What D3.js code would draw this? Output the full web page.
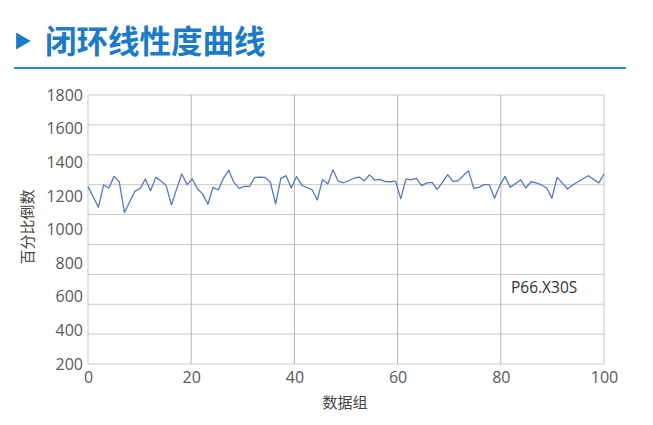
<!DOCTYPE html>
<html><head><meta charset="utf-8">
<script src="https://cdn.jsdelivr.net/npm/d3@7"></script>
<style>body{margin:0;background:#fff;} svg{display:block;}</style>
</head><body>
<svg id="c" width="653" height="425"></svg>
<script>
const titleText = "闭环线性度曲线";
const xTitle = "数据组";
const yTitle = "百分比倒数";
const note = "P66.X30S";
const xTicks = [0, 20, 40, 60, 80, 100];
const yTicks = [200, 400, 600, 800, 1000, 1200, 1400, 1600, 1800];
const gridValues = [0, 200, 400, 600, 800, 1000, 1200, 1400, 1600, 1800];
const values = [
 1255,1195,1132,1265,1247,1316,1284,1101,1165,1227,
 1245,1300,1231,1310,1288,1261,1146,1240,1330,1267,
 1300,1241,1212,1150,1251,1235,1306,1352,1280,1245,
 1257,1257,1310,1312,1310,1280,1152,1304,1320,1247,
 1314,1264,1250,1236,1176,1298,1271,1356,1287,1278,
 1290,1305,1312,1290,1325,1294,1298,1285,1284,1288,
 1184,1300,1296,1304,1261,1277,1280,1239,1280,1326,
 1286,1290,1320,1350,1245,1251,1267,1267,1186,1261,
 1316,1251,1273,1296,1247,1284,1277,1265,1247,1186,
 1310,1277,1241,1265,1284,1302,1320,1298,1277,1330
];

const svg = d3.select("#c");
const L = 88, R = 604, T = 95, B = 364;
const x = d3.scaleLinear().domain([0, 100]).range([L, R]);
const y = d3.scaleLinear().domain([200, 1800]).range([B, T]);
const g = d3.scaleLinear().domain([0, 1800]).range([B, T]);
const blue = "#1b7bc6";

// title
svg.append("path").attr("d", d3.symbol().type(d3.symbolTriangle).size(125)())
  .attr("transform", "translate(21,41) rotate(90)").attr("fill", blue);
svg.append("text").attr("x", 45).attr("y", 53).text(titleText)
  .attr("font-family", "Noto Sans CJK SC").attr("font-weight", "bold")
  .attr("font-size", 31.5).attr("fill", blue);
svg.append("line").attr("x1", 14).attr("x2", 626).attr("y1", 68).attr("y2", 68)
  .attr("stroke", "#2a86d0").attr("stroke-width", 2);

// horizontal gridlines
svg.append("g").selectAll("line").data(gridValues).join("line")
  .attr("x1", L).attr("x2", R).attr("y1", d => g(d)).attr("y2", d => g(d))
  .attr("stroke", "#c8c8c8").attr("stroke-width", 1);
// vertical gridlines
svg.append("g").selectAll("line").data(xTicks).join("line")
  .attr("x1", d => x(d)).attr("x2", d => x(d)).attr("y1", T).attr("y2", B)
  .attr("stroke", d => (d === 0 || d === 100) ? "#c8c8c8" : "#b4b4b4").attr("stroke-width", 1);

// axes labels
const fnt = "'Open Sans', 'DejaVu Sans', sans-serif";
const yAxis = svg.append("g").attr("transform", `translate(${L},0)`)
  .call(d3.axisLeft(y).tickValues(yTicks).tickSize(0).tickPadding(5).tickFormat(d3.format("d")));
yAxis.select(".domain").remove();
yAxis.selectAll("text").attr("font-family", fnt).attr("font-size", 16).attr("fill", "#595959");
const xAxis = svg.append("g").attr("transform", `translate(0,${B})`)
  .call(d3.axisBottom(x).tickValues(xTicks).tickSize(0).tickPadding(8).tickFormat(d3.format("d")));
xAxis.select(".domain").remove();
xAxis.selectAll("text").attr("font-family", fnt).attr("font-size", 16).attr("fill", "#595959");

// axis titles
svg.append("text").attr("transform", "translate(33,227) rotate(-90)").attr("text-anchor", "middle")
  .attr("font-family", "Noto Sans CJK SC").attr("font-size", 15).attr("fill", "#444").text(yTitle);
svg.append("text").attr("x", 345).attr("y", 408).attr("text-anchor", "middle")
  .attr("font-family", "Noto Sans CJK SC").attr("font-size", 15).attr("fill", "#444").text(xTitle);

// line
const n = values.length;
const line = d3.line().x((d, i) => x(i * 100 / (n - 1))).y(d => y(d));
svg.append("path").datum(values).attr("d", line).attr("fill", "none")
  .attr("stroke", "#5479bc").attr("stroke-width", 1.3).attr("stroke-linejoin", "round");

// annotation
svg.append("text").attr("x", 511).attr("y", 293).text(note)
  .attr("font-family", fnt).attr("font-size", 15.5).attr("fill", "#333");
</script>
</body></html>
